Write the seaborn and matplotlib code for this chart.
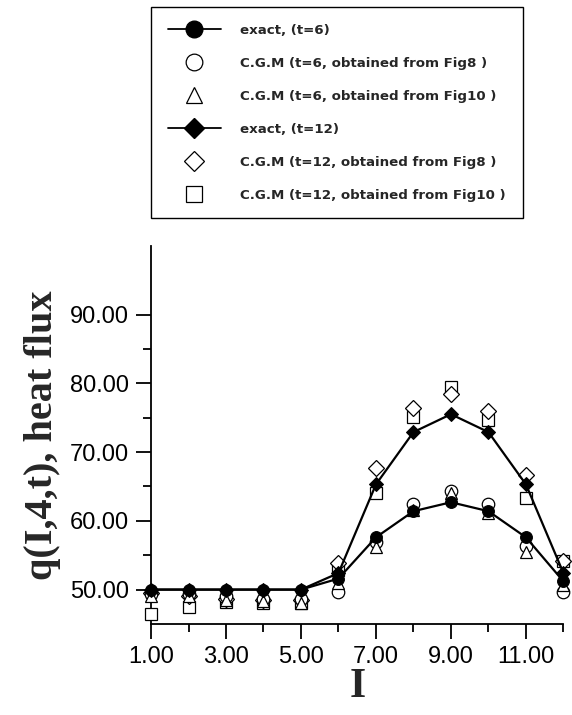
import matplotlib
matplotlib.use("Agg")
import matplotlib.pyplot as plt
import seaborn as sns
import numpy as np
from matplotlib.ticker import FixedLocator
from matplotlib.lines import Line2D

I = [1, 2, 3, 4, 5, 6, 7, 8, 9, 10, 11, 12]
exact_t6 = [50.0, 50.0, 50.0, 50.0, 50.0, 51.6, 57.6, 61.4, 62.7, 61.4, 57.6, 51.2]
cgm_t6_fig8 = [49.4, 49.3, 49.0, 48.7, 48.6, 49.6, 56.9, 62.5, 64.3, 62.5, 56.4, 49.6]
cgm_t6_fig10 = [49.0, 49.0, 48.5, 48.3, 48.0, 51.0, 56.2, 61.6, 64.0, 61.1, 55.4, 50.6]
exact_t12 = [50.0, 50.0, 50.0, 50.0, 50.0, 52.4, 65.3, 72.9, 75.5, 72.9, 65.3, 52.4]
cgm_t12_fig8 = [49.5, 49.0, 48.7, 48.5, 48.5, 53.9, 67.7, 76.4, 78.5, 76.0, 66.6, 54.2]
cgm_t12_fig10 = [46.5, 47.5, 48.2, 48.0, 48.0, 52.8, 64.0, 75.1, 79.5, 74.7, 63.3, 54.1]

labels = ["exact, (t=6)",
          "C.G.M (t=6, obtained from Fig8 )",
          "C.G.M (t=6, obtained from Fig10 )",
          "exact, (t=12)",
          "C.G.M (t=12, obtained from Fig8 )",
          "C.G.M (t=12, obtained from Fig10 )"]

sns.set_theme(style="ticks")
plt.rcParams['font.family'] = ['Liberation Sans', 'DejaVu Sans']

fig = plt.figure(figsize=(5.72, 7.15), dpi=100)
ax = fig.add_axes([0.264, 0.1273, 0.721, 0.529])

open_kw = dict(linestyle='', color='black', markerfacecolor='white',
               markeredgecolor='black', markeredgewidth=0.9, clip_on=False)
sns.lineplot(x=I, y=cgm_t12_fig10, marker='s', markersize=9, ax=ax, zorder=3, **open_kw)
sns.lineplot(x=I, y=cgm_t12_fig8, marker='D', markersize=8, ax=ax, zorder=3, **open_kw)
sns.lineplot(x=I, y=cgm_t6_fig8, marker='o', markersize=9, ax=ax, zorder=3, **open_kw)
sns.lineplot(x=I, y=cgm_t6_fig10, marker='^', markersize=9, ax=ax, zorder=3, **open_kw)

sns.lineplot(x=I, y=exact_t12, marker='D', markersize=7.5, color='black', linewidth=1.6,
             markerfacecolor='black', markeredgecolor='black', ax=ax, zorder=4, clip_on=False)
sns.lineplot(x=I, y=exact_t6, marker='o', markersize=8.5, color='black', linewidth=1.6,
             markerfacecolor='black', markeredgecolor='black', ax=ax, zorder=4, clip_on=False)

ax.set_xlim(1, 12)
ax.set_ylim(45, 100)
ax.xaxis.set_major_locator(FixedLocator([1, 3, 5, 7, 9, 11]))
ax.xaxis.set_minor_locator(FixedLocator([2, 4, 6, 8, 10, 12]))
ax.yaxis.set_major_locator(FixedLocator([50, 60, 70, 80, 90]))
ax.yaxis.set_minor_locator(FixedLocator([55, 65, 75, 85]))
ax.set_xticklabels(["1.00", "3.00", "5.00", "7.00", "9.00", "11.00"])
ax.set_yticklabels(["50.00", "60.00", "70.00", "80.00", "90.00"])
ax.tick_params(axis='both', which='major', length=11, width=1.3, direction='out',
               labelsize=17, pad=5, color='black', labelcolor='black')
ax.tick_params(axis='both', which='minor', length=5.5, width=1.3, direction='out', color='black')
for s in ['top', 'right']:
    ax.spines[s].set_visible(False)
for s in ['left', 'bottom']:
    ax.spines[s].set_linewidth(1.3)
    ax.spines[s].set_color('black')
ax.grid(False)

ax.set_xlabel("I", fontsize=30, fontweight='bold', family=['Liberation Serif', 'DejaVu Serif'],
              labelpad=0)
ax.set_ylabel("q(I,4,t), heat flux", fontsize=29, fontweight='bold',
              family=['Liberation Serif', 'DejaVu Serif'], labelpad=6)

handles = [
    Line2D([], [], color='black', marker='o', markersize=12, linewidth=1.3, markerfacecolor='black'),
    Line2D([], [], color='black', marker='o', markersize=12, linestyle='', markerfacecolor='white', markeredgewidth=0.9),
    Line2D([], [], color='black', marker='^', markersize=12, linestyle='', markerfacecolor='white', markeredgewidth=0.9),
    Line2D([], [], color='black', marker='D', markersize=10, linewidth=1.3, markerfacecolor='black'),
    Line2D([], [], color='black', marker='D', markersize=10, linestyle='', markerfacecolor='white', markeredgewidth=0.9),
    Line2D([], [], color='black', marker='s', markersize=12, linestyle='', markerfacecolor='white', markeredgewidth=0.9),
]
leg = fig.legend(handles, labels, loc='upper left', bbox_to_anchor=(151/572, 1 - 7/715),
                 frameon=True, fancybox=False, edgecolor='black', framealpha=1,
                 prop={'family': ['DejaVu Sans'], 'weight': 'bold', 'size': 9.6},
                 handlelength=4.0, handletextpad=1.45, labelspacing=1.5, borderpad=1.25,
                 borderaxespad=0)
leg.get_frame().set_linewidth(1.0)

fig.savefig("out.png", dpi=100)
